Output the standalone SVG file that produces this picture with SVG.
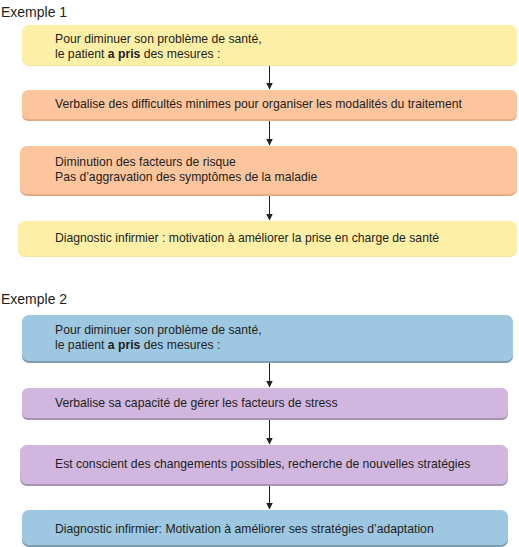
<svg xmlns="http://www.w3.org/2000/svg" width="519" height="547" viewBox="0 0 519 547">
<style>
text{font-family:"Liberation Sans",Arial,sans-serif;font-size:12.2px;fill:#231f20}
.h{font-size:14px}
.y{fill:#fdefa6}
.o{fill:#fcc59d}
.b{fill:#9ec8e1}
.p{fill:#d1b7df}
.sy{fill:#f3e29a}
.so{fill:#e9aa82}
.sb{fill:#7f9cb0}
.sp{fill:#a893b3}
.c{stroke:#231f20;stroke-width:1;fill:none}
</style>
<defs>
<marker id="ah" markerWidth="7" markerHeight="7" refX="6.5" refY="3.5" orient="auto" markerUnits="userSpaceOnUse" viewBox="0 0 7 7">
<path d="M0,0 L7,3.5 L0,7 Z" fill="#231f20"/>
</marker>
</defs>
<text class="h" x="1" y="17">Exemple 1</text>
<text class="h" x="1" y="304">Exemple 2</text>
<g id="connectors">
<line class="c" x1="269.5" y1="66" x2="269.5" y2="89" marker-end="url(#ah)"/>
<line class="c" x1="269.5" y1="121" x2="269.5" y2="145" marker-end="url(#ah)"/>
<line class="c" x1="269.5" y1="196" x2="269.5" y2="220" marker-end="url(#ah)"/>
<line class="c" x1="269.5" y1="363" x2="269.5" y2="387" marker-end="url(#ah)"/>
<line class="c" x1="269.5" y1="420" x2="269.5" y2="444" marker-end="url(#ah)"/>
<line class="c" x1="269.5" y1="486" x2="269.5" y2="509" marker-end="url(#ah)"/>
</g>
<g id="n1">
<rect class="sy" x="22" y="26" width="495" height="40" rx="7"/>
<rect class="y" x="22" y="25" width="495" height="40" rx="7"/>
<text x="55" y="43">Pour diminuer son problème de santé,</text>
<text x="55" y="58">le patient <tspan font-weight="bold">a pris</tspan> des mesures :</text>
</g>
<g id="n2">
<rect class="so" x="22" y="91" width="495" height="30" rx="6"/>
<rect class="o" x="22" y="90" width="495" height="29" rx="6"/>
<text x="55" y="108">Verbalise des difficultés minimes pour organiser les modalités du traitement</text>
</g>
<g id="n3">
<rect class="so" x="20" y="147" width="497" height="49" rx="7"/>
<rect class="o" x="20" y="146" width="497" height="48" rx="7"/>
<text x="55" y="166">Diminution des facteurs de risque</text>
<text x="55" y="181">Pas d’aggravation des symptômes de la maladie</text>
</g>
<g id="n4">
<rect class="sy" x="18" y="222" width="499" height="35" rx="7"/>
<rect class="y" x="18" y="221" width="499" height="35" rx="7"/>
<text x="55" y="242">Diagnostic infirmier : motivation à améliorer la prise en charge de santé</text>
</g>
<g id="n5">
<rect class="sb" x="22" y="316" width="491" height="47" rx="7"/>
<rect class="b" x="22" y="315" width="491" height="46" rx="7"/>
<text x="55" y="334">Pour diminuer son problème de santé,</text>
<text x="55" y="349">le patient <tspan font-weight="bold">a pris</tspan> des mesures :</text>
</g>
<g id="n6">
<rect class="sp" x="22" y="389" width="486" height="31" rx="6"/>
<rect class="p" x="22" y="388" width="486" height="30" rx="6"/>
<text x="55" y="407">Verbalise sa capacité de gérer les facteurs de stress</text>
</g>
<g id="n7">
<rect class="sp" x="20" y="446" width="488" height="40" rx="7"/>
<rect class="p" x="20" y="445" width="488" height="39" rx="7"/>
<text x="55" y="468">Est conscient des changements possibles, recherche de nouvelles stratégies</text>
</g>
<g id="n8">
<rect class="sb" x="22" y="511" width="486" height="36" rx="7"/>
<rect class="b" x="22" y="510" width="486" height="35" rx="7"/>
<text x="55" y="533">Diagnostic infirmier: Motivation à améliorer ses stratégies d’adaptation</text>
</g>
</svg>
